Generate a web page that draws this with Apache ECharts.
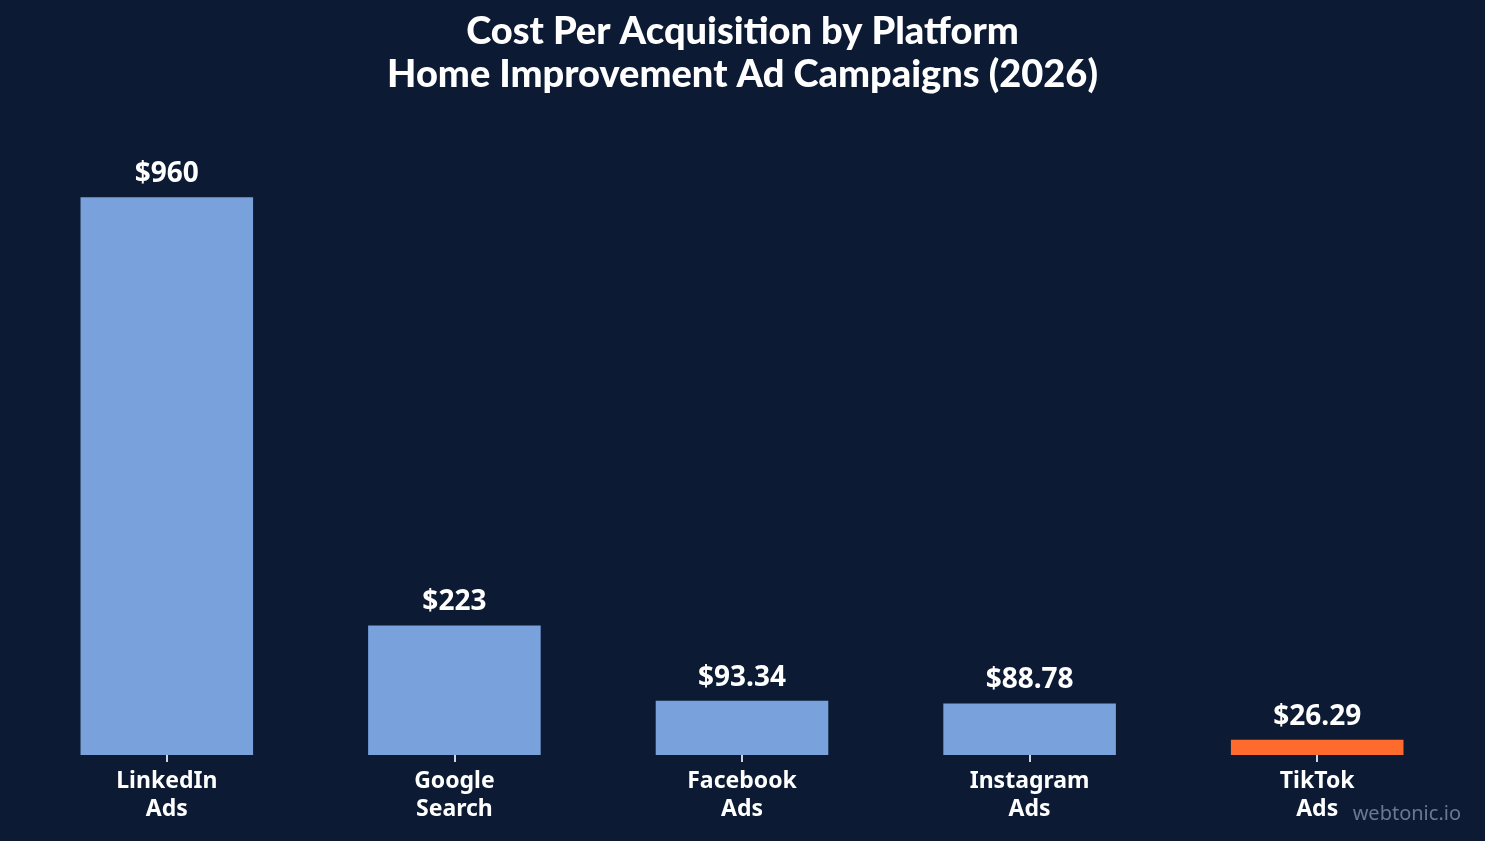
<!DOCTYPE html>
<html>
<head>
<meta charset="utf-8">
<script src="https://cdn.jsdelivr.net/npm/echarts@6/dist/echarts.min.js"></script>
<style>
  html, body { margin: 0; padding: 0; background: #0c1b33; }
  #chart { width: 1485px; height: 841px; }
</style>
</head>
<body>
<div id="chart"></div>
<script>
// data
const platforms = ["LinkedIn\nAds", "Google\nSearch", "Facebook\nAds", "Instagram\nAds", "TikTok\nAds"];
const cpaValues = [960, 223, 93.34, 88.78, 26.29];
const highlightIndex = 4; // TikTok highlighted

const chart = echarts.init(document.getElementById("chart"), null, { renderer: "canvas" });

chart.setOption({
  backgroundColor: "#0c1b33",
  title: {
    text: "Cost Per Acquisition by Platform\nHome Improvement Ad Campaigns (2026)",
    left: "center",
    top: 5,
    textStyle: {
      color: "#ffffff",
      fontFamily: "Lato",
      fontWeight: 900,
      fontSize: 38,
      lineHeight: 43,
    },
  },
  graphic: [
    {
      type: "text",
      right: 24,
      top: 804,
      style: {
        text: "webtonic.io",
        fill: "#6b7891",
        font: "20px 'Noto Sans'",
      },
    },
  ],
  grid: {
    left: 23,
    right: 24,
    top: 174,
    bottom: 86,
  },
  xAxis: {
    type: "category",
    data: platforms,
    axisLine: { show: false },
    axisTick: {
      show: true,
      alignWithLabel: true,
      length: 7,
      lineStyle: { color: "#d0d4dc", width: 2 },
    },
    axisLabel: {
      color: "#ffffff",
      fontFamily: "Noto Sans",
      fontWeight: "bold",
      fontSize: 23,
      lineHeight: 28,
      margin: 12,
    },
  },
  yAxis: {
    type: "value",
    min: 0,
    max: 1000,
    show: false,
  },
  series: [
    {
      type: "bar",
      barWidth: "60%",
      data: cpaValues.map((v, i) => ({
        value: v,
        itemStyle: { color: i === highlightIndex ? "#ff6b2c" : "#79a2dc" },
      })),
      label: {
        show: true,
        position: "top",
        distance: 9,
        color: "#ffffff",
        fontFamily: "Noto Sans",
        fontWeight: "bold",
        fontSize: 28,
        formatter: (p) => (p.value >= 100 ? "$" + Math.round(p.value) : "$" + p.value.toFixed(2)),
      },
    },
  ],
});
</script>
</body>
</html>
